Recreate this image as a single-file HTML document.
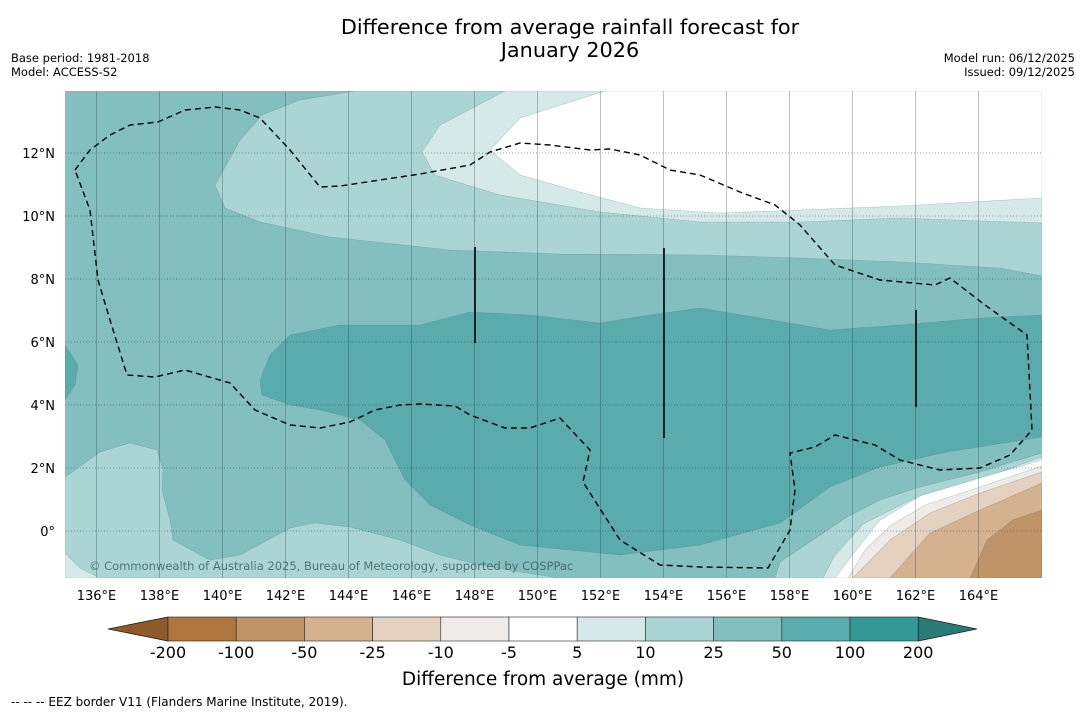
<!DOCTYPE html>
<html><head><meta charset="utf-8"><style>
body{margin:0;background:#fff;width:1085px;height:713px;overflow:hidden;font-family:"Liberation Sans","DejaVu Sans",sans-serif}
svg{position:absolute;left:0;top:0}
</style></head><body>
<svg id="s" width="1085" height="713" font-family="DejaVu Sans, Liberation Sans, sans-serif">
<text x="570" y="34" font-size="20.8" text-anchor="middle">Difference from average rainfall forecast for</text>
<text x="570" y="57" font-size="20.8" text-anchor="middle">January 2026</text>
<text x="11" y="62" font-size="11.5">Base period: 1981-2018</text>
<text x="11" y="76" font-size="11.5">Model: ACCESS-S2</text>
<text x="1075" y="62" font-size="11.5" text-anchor="end">Model run: 06/12/2025</text>
<text x="1075" y="76" font-size="11.5" text-anchor="end">Issued: 09/12/2025</text>
<defs><clipPath id="mc"><rect x="65" y="91" width="977" height="487"/></clipPath></defs>
<g id="map" clip-path="url(#mc)"></g>
<g id="cb"></g>
<text x="543" y="685" font-size="18.5" text-anchor="middle">Difference from average (mm)</text>
<text x="11" y="706" font-size="12">--  --  -- EEZ border V11 (Flanders Marine Institute, 2019).</text>
</svg>
<script>
const lonTicks=[136,138,140,142,144,146,148,150,152,154,156,158,160,162,164];
const latTicks=[0,2,4,6,8,10,12];
const cbLabels=["-200","-100","-50","-25","-10","-5","5","10","25","50","100","200"];
const cbColors=["#ae773f","#c09368","#d4b18f","#e5d1bf","#efebe8","#ffffff","#d5eae8","#abd5d5","#83bfbf","#5aabab","#329996"];
const NS="http://www.w3.org/2000/svg";
const X=lon=>65+(lon-135)*31.5, Y=lat=>531-lat*31.5;
const map=document.getElementById('map'), svg=document.getElementById('s'), cb=document.getElementById('cb');
function mk(tag,attrs,parent){const e=document.createElementNS(NS,tag);for(const k in attrs)e.setAttribute(k,attrs[k]);parent.appendChild(e);return e;}
function poly(pts,fill,name){const p=mk('polygon',{points:pts.map(q=>q.join(',')).join(' '),fill:fill,stroke:'rgba(80,120,120,0.35)','stroke-width':0.6},map);

}
const C=cbColors;
const bg=mk('rect',{x:65,y:91,width:977,height:487,fill:C[8]},map);


poly([[355,91],[300,100],[262,115],[240,140],[215,185],[225,208],[260,222],[330,237],[450,250],[560,254],[700,255],[800,258],[900,262],[1000,268],[1042,276],[1042,91]],C[7],'contour-10-25-north');
poly([[505,91],[440,125],[422,152],[435,175],[500,195],[600,212],[700,222],[800,222],[900,218],[1042,223],[1042,91]],C[6],'contour-5-10-north');
poly([[605,91],[520,118],[490,150],[520,175],[580,192],[640,208],[720,213],[800,210],[900,206],[1042,198],[1042,91]],C[5],'contour-white-north');
poly([[65,345],[78,365],[75,385],[65,400]],C[9],'contour-50-100-west');
poly([[262,395],[260,380],[270,355],[290,335],[340,325],[420,325],[470,312],[530,315],[600,323],[650,315],[700,308],[760,318],[830,330],[900,325],[980,318],[1042,315],[1042,437],[947,452],[880,467],[830,487],[780,523],[700,545],[620,555],[520,545],[470,525],[430,505],[405,480],[385,440],[360,420],[320,410],[290,405]],C[9],'contour-50-100');
poly([[65,477],[100,452],[130,443],[157,450],[163,470],[162,490],[170,520],[173,540],[210,560],[240,555],[290,528],[315,523],[350,527],[400,540],[440,555],[480,565],[520,572],[560,578],[65,578]],C[7],'contour-10-25-southwest');
poly([[65,553],[80,568],[100,578],[65,578]],C[6],'contour-5-10-southwest');
poly([[780,562],[813,540],[847,517],[880,500],[920,487],[980,472],[1042,453],[1042,578],[775,578]],C[7],'contour-10-25-southeast');
poly([[823,578],[835,555],[863,524],[913,499],[980,479],[1042,457],[1042,578]],C[6],'contour-5-10-southeast');
poly([[835,578],[850,558],[880,520],[920,496],[980,478],[1042,460],[1042,578]],C[5],'contour-white-southeast');
poly([[848,578],[865,550],[890,526],[925,505],[980,487],[1042,466],[1042,578]],C[4],'contour-minus5-10');
poly([[853,578],[890,540],[930,513],[980,493],[1042,472],[1042,578]],C[3],'contour-minus10-25');
poly([[890,578],[930,533],[980,510],[1042,483],[1042,578]],C[2],'contour-minus25-50');
poly([[970,578],[987,540],[1013,520],[1042,510],[1042,578]],C[1],'contour-minus50-100');
lonTicks.forEach(l=>{const g=mk('line',{x1:X(l),x2:X(l),y1:91,y2:578,stroke:'rgba(40,60,60,0.4)','stroke-width':0.8},map);

});
latTicks.forEach(l=>{const g=mk('line',{x1:65,x2:1042,y1:Y(l),y2:Y(l),stroke:'rgba(40,60,60,0.6)','stroke-width':0.8,'stroke-dasharray':'1,2'},map);

});
const eez=[[75,170],[90,150],[110,135],[130,125],[158,122],[185,110],[215,107],[240,110],[260,118],[290,150],[320,187],[340,186],[380,180],[420,174],[470,165],[490,152],[520,143],[550,145],[590,150],[610,149],[640,155],[670,170],[700,175],[740,192],[775,205],[800,225],[835,265],[880,280],[935,285],[950,278],[985,305],[1027,335],[1032,430],[1010,455],[980,468],[940,470],[900,460],[875,445],[835,435],[815,447],[790,453],[795,490],[790,530],[768,568],[700,567],[660,565],[620,540],[583,482],[590,450],[560,418],[530,428],[505,428],[470,415],[455,406],[420,404],[400,405],[375,410],[350,422],[320,428],[290,425],[255,410],[230,383],[185,370],[155,377],[127,375],[110,320],[98,280],[90,210],[75,170]];
const e=mk('polyline',{points:eez.map(q=>q.join(',')).join(' '),fill:'none',stroke:'#000','stroke-width':1.4,'stroke-dasharray':'6,4'},map);


[[475,247,343],[664,248,438],[916,310,407]].forEach(v=>{const l=mk('line',{x1:v[0],x2:v[0],y1:v[1],y2:v[2],stroke:'#000','stroke-width':1.6},map);

});
const cp=mk('text',{x:89,y:570,'font-size':11.5,fill:'rgba(60,90,90,0.8)'},map);cp.textContent='© Commonwealth of Australia 2025, Bureau of Meteorology, supported by COSPPac';


lonTicks.forEach(l=>{const t=mk('text',{x:X(l),y:600,'font-size':13,'text-anchor':'middle'},svg);t.textContent=l+'°E';

});
latTicks.forEach(l=>{const t=mk('text',{x:55,y:Y(l)+5,'font-size':13,'text-anchor':'end'},svg);t.textContent=(l===0?'0°':l+'°N');

});
const x0=168,w=68.2,y0=617,h=24;
const lt=mk('polygon',{points:`108,${y0+h/2} ${x0},${y0} ${x0},${y0+h}`,fill:'#8f5a29',stroke:'#222','stroke-width':0.8},cb);


const rt=mk('polygon',{points:`${x0+w*11},${y0} 977,${y0+h/2} ${x0+w*11},${y0+h}`,fill:'#2a7a77',stroke:'#222','stroke-width':0.8},cb);


cbColors.forEach((c,i)=>{const r=mk('rect',{x:x0+i*w,y:y0,width:w,height:h,fill:c,stroke:'#222','stroke-width':0.6},cb);

});
cbLabels.forEach((s,i)=>{const t=mk('text',{x:x0+i*w,y:658,'font-size':16,'text-anchor':'middle'},cb);t.textContent=s;

});
</script>
</body></html>
